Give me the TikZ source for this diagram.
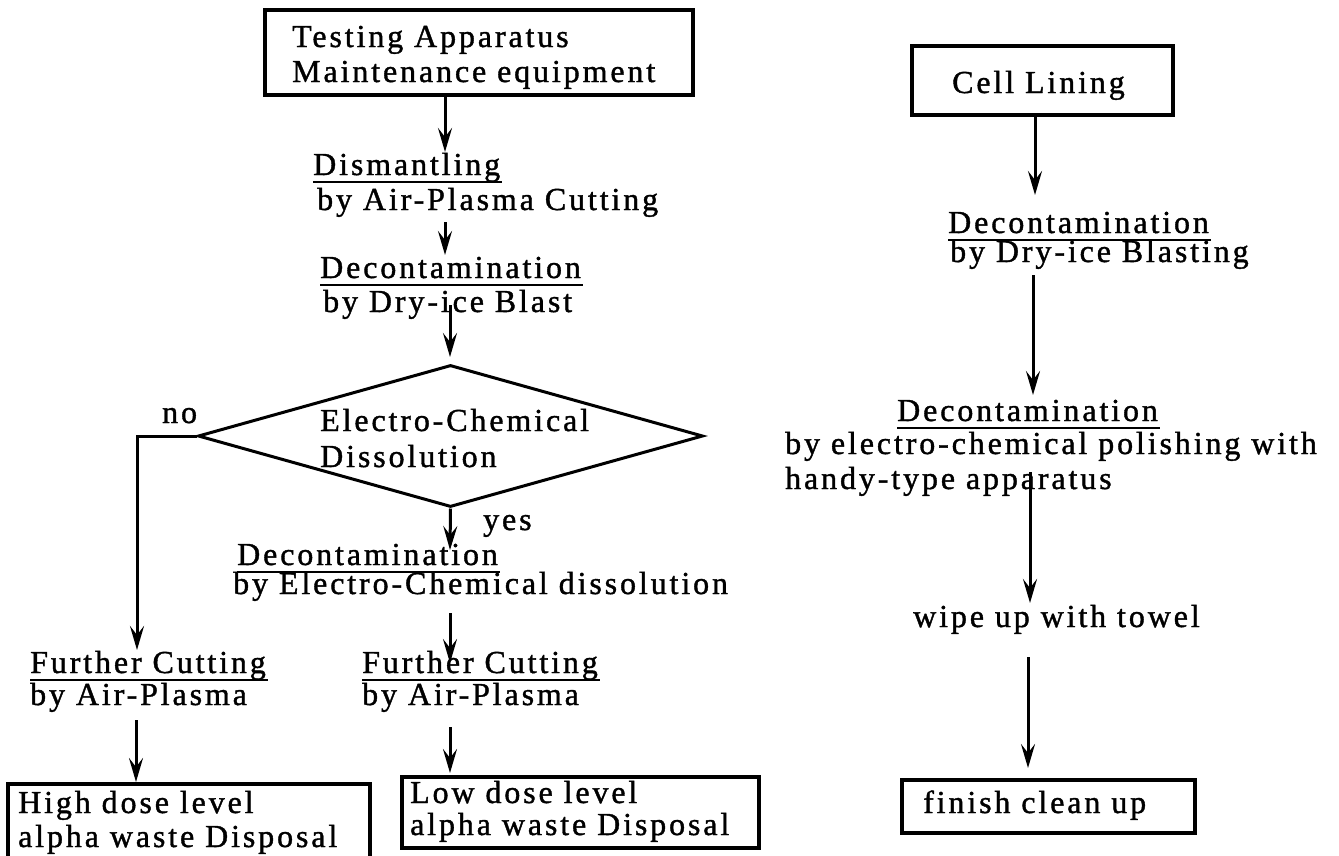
\documentclass[tikz,border=0pt]{standalone}
\usepackage{fontspec}
\setmainfont{Liberation Serif}[LetterSpace=9,FakeBold=1.2]
\usetikzlibrary{arrows.meta,shapes.geometric}
\begin{document}
\begin{tikzpicture}[x=1pt,y=-1pt,
  txt/.style={anchor=base west, inner sep=0pt, font=\fontsize{32}{36}\selectfont},
  box/.style={draw, line width=3.2pt, inner sep=0pt},
  arr/.style={line width=3pt, -{Stealth[length=24pt,width=14pt,inset=9pt]}},
  ln/.style={line width=3pt},
  ul/.style={line width=2.2pt}]
\useasboundingbox (0,0) rectangle (1339,855);
\fill[white] (0,0) rectangle (1339,855);

% ---------- boxes ----------
\node[box, minimum width=428pt, minimum height=85pt] (tbox) at (479,52.5) {};
\node[box, minimum width=261pt, minimum height=69pt] (cbox) at (1042.5,80.5) {};
\node[box, minimum width=362pt, minimum height=78pt] (lbox) at (189,823) {};
\node[box, minimum width=357pt, minimum height=71pt] (mbox) at (580.5,812.5) {};
\node[box, minimum width=293pt, minimum height=53pt] (fbox) at (1048.5,806.5) {};
\node[draw, diamond, line width=3pt, inner sep=0pt, minimum width=505pt, minimum height=142pt] (dia) at (450.5,436) {};

% ---------- texts ----------
\node[txt] (t1) at (292,47) {Testing Apparatus};
\node[txt] (t2) at (292,82) {Maintenance equipment};
\node[txt] (dis) at (313,175) {Dismantling};
\node[txt] (disb) at (317,210) {by Air-Plasma Cutting};
\node[txt] (dec1) at (320,278) {Decontamination};
\node[txt] (dec1b) at (323,312) {by Dry-ice Blast};
\node[txt] (ec1) at (320,431) {Electro-Chemical};
\node[txt] (ec2) at (320,467) {Dissolution};
\node[txt] (no) at (162,423) {no};
\node[txt] (yes) at (483,530) {yes};
\node[txt] (dec2) at (237,565) {Decontamination};
\node[txt] (dec2b) at (233,594) {by Electro-Chemical dissolution};
\node[txt] (fc1) at (30,673) {Further Cutting};
\node[txt] (fc1b) at (30,705) {by Air-Plasma};
\node[txt] (fc2) at (362,673) {Further Cutting};
\node[txt] (fc2b) at (362,705) {by Air-Plasma};
\node[txt] (hd1) at (18,813) {High dose level};
\node[txt] (hd2) at (18,847) {alpha waste Disposal};
\node[txt] (ld1) at (410,803) {Low dose level};
\node[txt] (ld2) at (410,835) {alpha waste Disposal};
\node[txt] (cl) at (952,93) {Cell Lining};
\node[txt] (rd1) at (948,233) {Decontamination};
\node[txt] (rd1b) at (950,262) {by Dry-ice Blasting};
\node[txt] (rd2) at (897,421) {Decontamination};
\node[txt] (rd2b) at (785,454) {by electro-chemical polishing with};
\node[txt] (rd2c) at (785,489) {handy-type apparatus};
\node[txt] (wp) at (913,627) {wipe up with towel};
\node[txt] (fin) at (923,813) {finish clean up};

% ---------- underlines ----------
\foreach \n in {dis,dec1,dec2,fc1,fc2,rd1,rd2}
  \draw[ul] ([yshift=-7pt]\n.base west) -- ([yshift=-7pt,xshift=2pt]\n.base east);

% ---------- arrow end points ----------
\coordinate (a1e) at (445,152);
\coordinate (a2s) at (445,222);
\coordinate (a2e) at (445,255);
\coordinate (a3s) at (450,305);
\coordinate (a3e) at (450,357);
\coordinate (ye) at (450,550);
\coordinate (nc) at (137,436);
\coordinate (ne) at (137,650);
\coordinate (a4s) at (450,613);
\coordinate (a4e) at (450,663);
\coordinate (a5s) at (136,720);
\coordinate (a5e) at (136,782);
\coordinate (a6s) at (450,727);
\coordinate (a6e) at (450,773);
\coordinate (r1e) at (1035,195);
\coordinate (r2s) at (1033,275);
\coordinate (r2e) at (1033,395);
\coordinate (r3s) at (1030,472);
\coordinate (r3e) at (1030,603);
\coordinate (r4s) at (1028,657);
\coordinate (r4e) at (1028,768);

% ---------- connectors ----------
\draw[arr] (tbox.south -| a1e) -- (a1e);
\draw[arr] (a2s) -- (a2e);
\draw[arr] (a3s) -- (a3e);
\draw[arr] (dia.south) -- (ye);
\draw[arr] (dia.west) -- (nc) -- (ne);
\draw[arr] (a4s) -- (a4e);
\draw[arr] (a5s) -- (a5e);
\draw[arr] (a6s) -- (a6e);
\draw[arr] (cbox.south -| r1e) -- (r1e);
\draw[arr] (r2s) -- (r2e);
\draw[arr] (r3s) -- (r3e);
\draw[arr] (r4s) -- (r4e);
\end{tikzpicture}
\end{document}
